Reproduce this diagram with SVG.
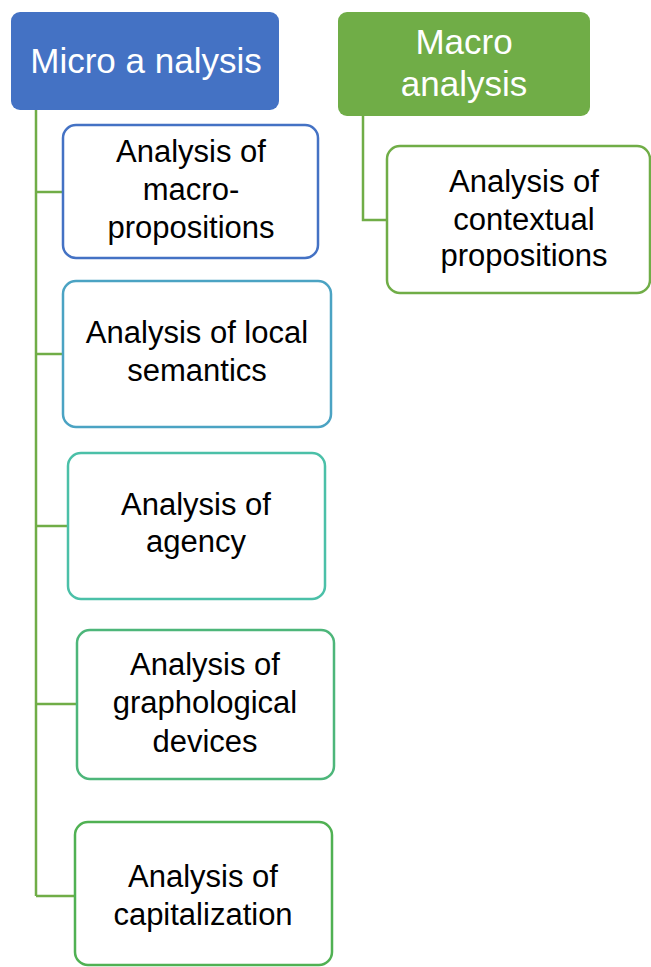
<svg xmlns="http://www.w3.org/2000/svg" width="651" height="967" viewBox="0 0 651 967">
<style>
.hdr{stroke:none}
.box{fill:#ffffff;stroke-width:2.5}
.t{font-family:"Liberation Sans",Arial,sans-serif;font-size:31px;fill:#000000;text-anchor:middle}
.ht{font-family:"Liberation Sans",Arial,sans-serif;font-size:35px;fill:#ffffff;text-anchor:middle}
.con{fill:none;stroke:#70AD47;stroke-width:2.5}
</style>
<rect width="651" height="967" fill="#ffffff"/>
<g id="connectors">
<path class="con" d="M36 110 V896"/>
<path class="con" d="M36 192 H63"/>
<path class="con" d="M36 354 H63"/>
<path class="con" d="M36 526 H68"/>
<path class="con" d="M36 704 H77"/>
<path class="con" d="M36 896 H75"/>
<path class="con" d="M363 116 V220 H387"/>
</g>
<g id="micro">
<rect class="hdr" x="11" y="12" width="268" height="98" rx="9" fill="#4472C4"/>
<text class="ht" x="146" y="73">Micro a nalysis</text>
</g>
<g id="macro">
<rect class="hdr" x="338" y="12" width="252" height="104" rx="9" fill="#70AD47"/>
<text class="ht" x="464" y="54">Macro</text>
<text class="ht" x="464" y="96">analysis</text>
</g>
<g id="n1">
<rect class="box" x="63" y="125" width="255" height="133" rx="13" stroke="#4472C4"/>
<text class="t" x="191" y="162">Analysis of</text>
<text class="t" x="191" y="200">macro-</text>
<text class="t" x="191" y="238">propositions</text>
</g>
<g id="n2">
<rect class="box" x="63" y="281" width="268" height="146" rx="13" stroke="#4BA3C3"/>
<text class="t" x="197" y="343">Analysis of local</text>
<text class="t" x="197" y="381">semantics</text>
</g>
<g id="n3">
<rect class="box" x="68" y="453" width="257" height="146" rx="13" stroke="#4BC0A8"/>
<text class="t" x="196" y="515">Analysis of</text>
<text class="t" x="196" y="552">agency</text>
</g>
<g id="n4">
<rect class="box" x="77" y="630" width="257" height="149" rx="13" stroke="#4DB67A"/>
<text class="t" x="205" y="675">Analysis of</text>
<text class="t" x="205" y="713">graphological</text>
<text class="t" x="205" y="752">devices</text>
</g>
<g id="n5">
<rect class="box" x="75" y="822" width="257" height="143" rx="13" stroke="#50B153"/>
<text class="t" x="203" y="887">Analysis of</text>
<text class="t" x="203" y="925">capitalization</text>
</g>
<g id="n6">
<rect class="box" x="387" y="146" width="263" height="147" rx="13" stroke="#70AD47"/>
<text class="t" x="524" y="192">Analysis of</text>
<text class="t" x="524" y="230">contextual</text>
<text class="t" x="524" y="266">propositions</text>
</g>
</svg>
